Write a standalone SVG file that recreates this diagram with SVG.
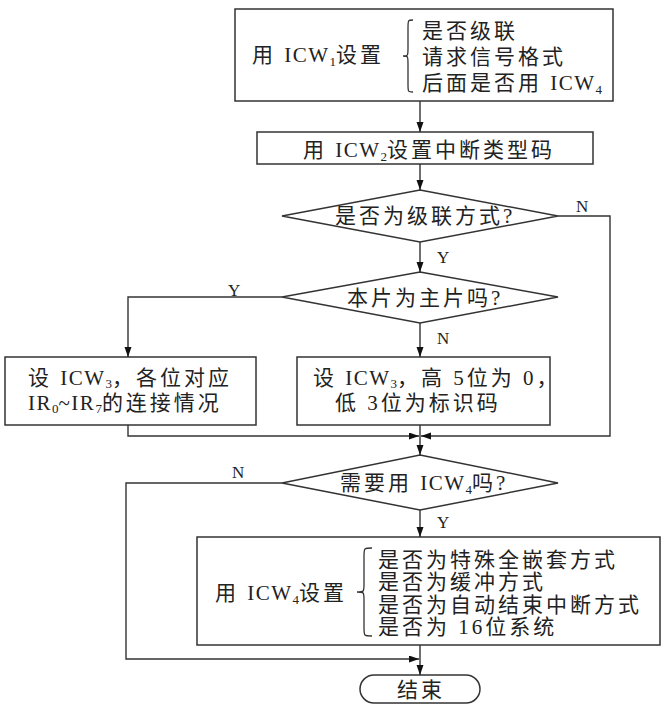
<svg xmlns="http://www.w3.org/2000/svg" width="665" height="705" viewBox="0 0 665 705">
<style>
  .box { fill: #fff; stroke: #333; stroke-width: 1.5; }
  .t { font-family: "Liberation Serif", "Noto Sans CJK SC", serif; font-size: 21px; letter-spacing: 3px; fill: #222; }
  .lat { letter-spacing: 1.5px; }
  .sub { font-size: 13px; letter-spacing: 0; }
  .lbl { font-family: "Liberation Serif", "Noto Sans CJK SC", serif; font-size: 17px; fill: #222; }
  .ln { fill: none; stroke: #333; stroke-width: 1.4; }
  .brace { fill: none; stroke: #333; stroke-width: 1.3; }
</style>
<defs>
  <marker id="arr" markerUnits="userSpaceOnUse" markerWidth="11" markerHeight="8" refX="10" refY="3.5" orient="auto">
    <path d="M0,0 L10,3.5 L0,7 z" fill="#111"/>
  </marker>
</defs>
<rect width="665" height="705" fill="#fff"/>

<g id="n1">
  <rect class="box" x="235" y="9" width="378" height="92"/>
  <text class="t" x="252" y="62">用 <tspan class="lat">ICW</tspan><tspan class="sub" dy="4">1</tspan><tspan dy="-4">设置</tspan></text>
  <path class="brace" d="M413,20 C408,20 408,20 408,28 L408,48 C408,56 408,56 403,56 C408,56 408,56 408,64 L408,84 C408,92 408,92 413,92"/>
  <text class="t" x="422" y="38">是否级联</text>
  <text class="t" x="422" y="64">请求信号格式</text>
  <text class="t" x="422" y="90">后面是否用 <tspan class="lat">ICW</tspan><tspan class="sub" dy="4">4</tspan></text>
</g>

<g id="n2">
  <rect class="box" x="257" y="132" width="336" height="32"/>
  <text class="t" x="303" y="157">用 <tspan class="lat">ICW</tspan><tspan class="sub" dy="4">2</tspan><tspan dy="-4">设置中断类型码</tspan></text>
</g>

<g id="d1">
  <polygon class="box" points="420,190 558,216 420,242 282,216"/>
  <text class="t" x="335" y="223">是否为级联方式?</text>
</g>

<g id="d2">
  <polygon class="box" points="420,272 558,297 420,323 282,297"/>
  <text class="t" x="347" y="305">本片为主片吗?</text>
</g>

<g id="n3">
  <rect class="box" x="5" y="357" width="251" height="68"/>
  <text class="t" x="28" y="385">设 <tspan class="lat">ICW</tspan><tspan class="sub" dy="3">3</tspan><tspan dy="-3">，各位对应</tspan></text>
  <text class="t" x="28" y="410"><tspan class="lat">IR</tspan><tspan class="sub" dy="3">0</tspan><tspan class="lat" dy="-3">~IR</tspan><tspan class="sub" dy="3">7</tspan><tspan dy="-3">的连接情况</tspan></text>
</g>

<g id="n4">
  <rect class="box" x="297" y="357" width="253" height="68"/>
  <text class="t" x="313" y="385">设 <tspan class="lat">ICW</tspan><tspan class="sub" dy="3">3</tspan><tspan dy="-3">，高 5位为 0，</tspan></text>
  <text class="t" x="335" y="410">低 3位为标识码</text>
</g>

<g id="d3">
  <polygon class="box" points="420,455 558,483 420,510 282,483"/>
  <text class="t" x="340" y="490">需要用 <tspan class="lat">ICW</tspan><tspan class="sub" dy="4">4</tspan><tspan dy="-4">吗?</tspan></text>
</g>

<g id="n5">
  <rect class="box" x="197" y="537" width="463" height="108"/>
  <text class="t" x="215" y="600">用 <tspan class="lat">ICW</tspan><tspan class="sub" dy="4">4</tspan><tspan dy="-4">设置</tspan></text>
  <path class="brace" d="M372,548 C364,548 364,548 364,556 L364,584 C364,592 364,592 357,592 C364,592 364,592 364,600 L364,628 C364,636 364,636 372,636"/>
  <text class="t" x="378" y="567">是否为特殊全嵌套方式</text>
  <text class="t" x="378" y="589">是否为缓冲方式</text>
  <text class="t" x="378" y="612">是否为自动结束中断方式</text>
  <text class="t" x="378" y="634">是否为 16位系统</text>
</g>

<g id="end">
  <rect class="box" x="360" y="675" width="120" height="28" rx="14" ry="14"/>
  <text class="t" x="397" y="697">结束</text>
</g>

<g id="connectors">
  <line class="ln" x1="420" y1="101" x2="420" y2="132" marker-end="url(#arr)"/>
  <line class="ln" x1="420" y1="164" x2="420" y2="190" marker-end="url(#arr)"/>
  <line class="ln" x1="420" y1="242" x2="420" y2="272" marker-end="url(#arr)"/>
  <polyline class="ln" points="558,216 610,216 610,436 421,436" marker-end="url(#arr)"/>
  <polyline class="ln" points="282,297 128,297 128,357" marker-end="url(#arr)"/>
  <line class="ln" x1="420" y1="323" x2="420" y2="357" marker-end="url(#arr)"/>
  <polyline class="ln" points="128,425 128,436 419,436" marker-end="url(#arr)"/>
  <line class="ln" x1="420" y1="425" x2="420" y2="455" marker-end="url(#arr)"/>
  <line class="ln" x1="420" y1="510" x2="420" y2="537" marker-end="url(#arr)"/>
  <polyline class="ln" points="282,483 126,483 126,659 419,659" marker-end="url(#arr)"/>
  <line class="ln" x1="420" y1="645" x2="420" y2="675" marker-end="url(#arr)"/>
  <text class="lbl" x="576" y="212">N</text>
  <text class="lbl" x="437" y="263">Y</text>
  <text class="lbl" x="228" y="296">Y</text>
  <text class="lbl" x="437" y="344">N</text>
  <text class="lbl" x="232" y="478">N</text>
  <text class="lbl" x="437" y="528">Y</text>
</g>
</svg>
